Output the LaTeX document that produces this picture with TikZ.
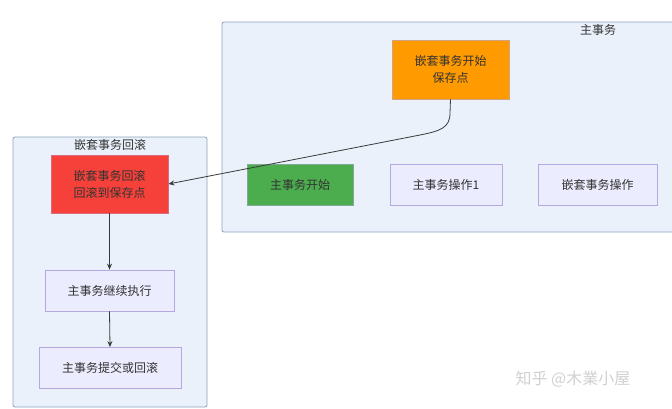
\documentclass[tikz,border=0pt]{standalone}
\usepackage{fontspec}
\setmainfont{Noto Sans CJK SC}
\usetikzlibrary{arrows.meta}
\definecolor{grpfill}{HTML}{EAF1FB}
\definecolor{grpdraw}{HTML}{8DA2BA}
\definecolor{nodefill}{HTML}{ECECFF}
\definecolor{nodedraw}{HTML}{B4A8DE}
\definecolor{orangefill}{HTML}{FF9A00}
\definecolor{redfill}{HTML}{F5413A}
\definecolor{greenfill}{HTML}{4CAD4F}
\definecolor{edgecol}{HTML}{3A3A3A}
\definecolor{txt}{HTML}{333333}
\tikzset{
  grp/.style={draw=grpdraw, fill=grpfill, rounded corners=2pt, line width=0.8pt},
  box/.style={draw=nodedraw, fill=nodefill, line width=0.8pt, minimum height=41pt, text=txt, font=\fontsize{12}{17}\selectfont, align=center, inner sep=0pt},
  conn/.style={draw=edgecol, line width=0.8pt, -{Stealth[length=6pt,width=5pt]}},
}
\begin{document}
\begin{tikzpicture}[x=1pt,y=-1pt]
\useasboundingbox (0,0) rectangle (672,408);
\fill[white] (0,0) rectangle (672,408);
% containers
\draw[grp] (222,22) rectangle (680,232);
\draw[grp] (13,137) rectangle (207,407);
\node[font=\fontsize{12}{14}\selectfont, text=txt] (lblmain) at (598,30) {主事务};
\node[font=\fontsize{12}{14}\selectfont, text=txt] (lblnest) at (110,145) {嵌套事务回滚};
% main transaction nodes
\node[box, fill=orangefill, draw=nodedraw!60!orangefill, minimum width=117pt, minimum height=59pt] (save) at (450.5,69.5) {嵌套事务开始\\保存点};
\node[box, fill=greenfill, draw=nodedraw!50!greenfill, minimum width=106pt] (mstart) at (300,184.5) {主事务开始};
\node[box, minimum width=112pt] (mop1) at (446,184.5) {主事务操作1};
\node[box, minimum width=119pt] (nop) at (597.5,184.5) {嵌套事务操作};
% nested rollback nodes
\node[box, fill=redfill, draw=nodedraw!40!redfill, minimum width=117pt, minimum height=58pt] (rb) at (109.5,184) {嵌套事务回滚\\回滚到保存点};
\node[box, minimum width=129pt] (cont) at (109.5,290.5) {主事务继续执行};
\node[box, minimum width=142pt] (commit) at (110,368) {主事务提交或回滚};
% connectors
\coordinate (bend) at (420,135);
\draw[conn] (save.south) -- (450,113) .. controls (450,128) and (440,131) .. (bend) -- (rb.east);
\draw[conn] (rb.south) -- (cont.north);
\draw[conn] (cont.south) -- (commit.north);
% watermark
\node[font=\fontsize{16}{18}\selectfont, text=black!18, anchor=west] (wm) at (512,379) {知乎 @木業小屋};
\end{tikzpicture}
\end{document}
